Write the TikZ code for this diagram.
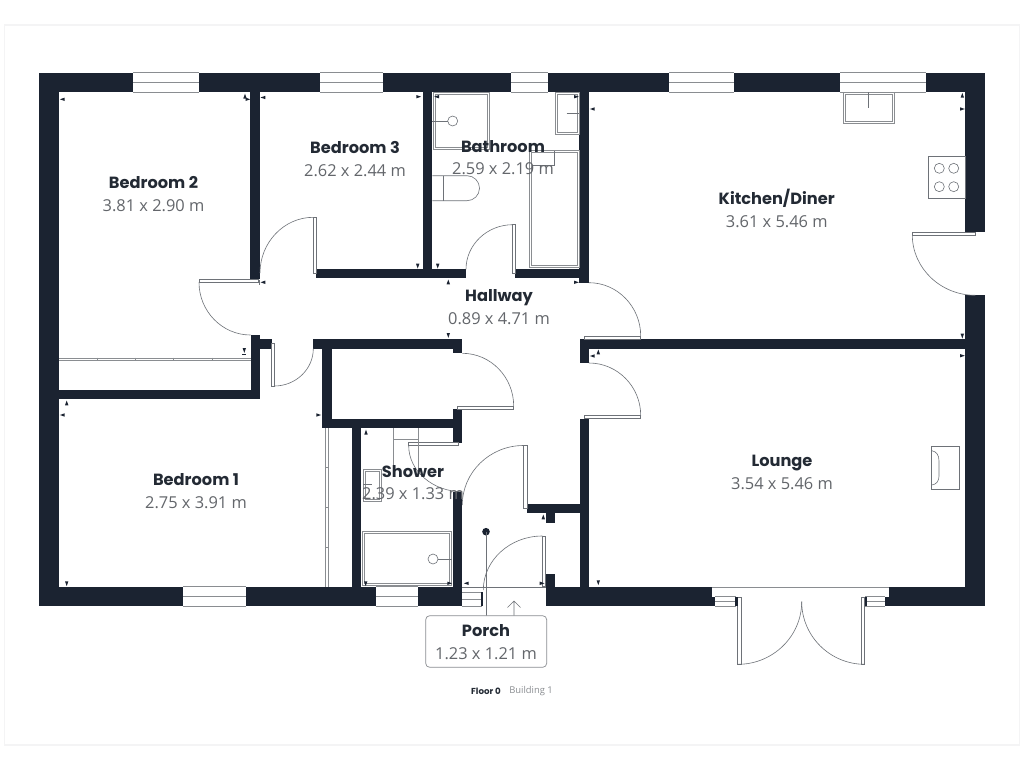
\documentclass[tikz,border=0pt]{standalone}
\usepackage{fontspec}
\setmainfont{Open Sans}
\newfontfamily\headfont{Poppins}
\usetikzlibrary{calc}
\definecolor{wallc}{HTML}{1B2331}
\definecolor{linec}{HTML}{6E7278}
\definecolor{fixc}{HTML}{8A8D91}
\definecolor{namec}{HTML}{232A34}
\definecolor{dimc}{HTML}{63666B}
\definecolor{pagec}{HTML}{F4F4F5}
\tikzset{
  wall/.style={fill=wallc,draw=none},
  thinl/.style={draw=linec,line width=0.6pt},
  fix/.style={draw=fixc,line width=0.8pt,fill=none},
  swing/.style={draw=linec,line width=0.6pt},
  leaf/.style={draw=linec,line width=0.6pt,fill=white},
  win/.style={draw=fixc,line width=0.6pt},
  roomname/.style={font=\headfont\fontsize{16.2}{18}\selectfont\bfseries,text=namec,inner sep=0pt,anchor=center,text height=11.4pt,text depth=0pt},
  roomdim/.style={font=\fontsize{16.4}{18}\selectfont,text=dimc,inner sep=0pt,anchor=center,text height=11.7pt,text depth=0pt}
}
\newcommand\wl[4]{\fill[wall] (#1,#2) rectangle (#3,#4);}
\newcommand\wn[3]{\fill[white] (#1,#2) rectangle (#3,#2+19.6); \draw[win] (#1,#2) -- (#3,#2) (#1,#2+9.8) -- (#3,#2+9.8) (#1,#2+19.6) -- (#3,#2+19.6);}
\newcommand\lf[4]{\draw[leaf] (#1,#2) rectangle (#3,#4);}
\newcommand\dbl[4]{\draw[fix] (#1,#2) rectangle (#3,#4); \draw[fix] (#1+1.9,#2+1.9) rectangle (#3-1.9,#4-1.9);}
% quarter swing: start, corner, end
\newcommand\qa[6]{\draw[swing] (#1,#2) .. controls ($(#1,#2)!0.55!(#3,#4)$) and ($(#5,#6)!0.55!(#3,#4)$) .. (#5,#6);}
\newcommand\tkl[2]{\fill[wallc] (#1-2.8,#2) -- (#1+2,#2-1.7) -- (#1+2,#2+1.7) -- cycle;}
\newcommand\tkr[2]{\fill[wallc] (#1+2.8,#2) -- (#1-2,#2-1.7) -- (#1-2,#2+1.7) -- cycle;}
\newcommand\tku[2]{\fill[wallc] (#1,#2-2.8) -- (#1-1.7,#2+2) -- (#1+1.7,#2+2) -- cycle;}
\newcommand\tkd[2]{\fill[wallc] (#1,#2+2.8) -- (#1-1.7,#2-2) -- (#1+1.7,#2-2) -- cycle;}
\begin{document}
\begin{tikzpicture}[x=1pt,y=-1pt]
\useasboundingbox (0,0) rectangle (1024,768);
\fill[white] (0,0) rectangle (1024,768);
\draw[pagec,line width=1.4pt] (4.5,25) rectangle (1019.5,745);

% sliding wardrobes
\draw[fix] (59,358) -- (250.5,358) (59,360.2) -- (250.5,360.2);
\foreach \x in {97,135.3,173.7,212} {\draw[fix] (\x,357.5) -- (\x,360.7);}
\draw[fix] (325.7,428) -- (325.7,587) (327.9,428) -- (327.9,587);
\foreach \y in {467,507.7,547} {\draw[fix] (325.2,\y) -- (328.4,\y);}

% outer walls
\wl{39}{72.7}{133}{92.3}
\wl{199}{72.7}{320}{92.3}
\wl{383}{72.7}{511}{92.3}
\wl{548}{72.7}{669}{92.3}
\wl{734.3}{72.7}{840.3}{92.3}
\wl{925.7}{72.7}{985.3}{92.3}
\wl{39}{72.7}{59}{606.3}
\wl{965}{72.7}{985.3}{232.3}
\wl{965}{295.3}{985.3}{606.3}
\wl{39}{586.7}{183}{606.3}
\wl{246}{586.7}{375.7}{606.3}
\wl{417.7}{586.7}{462.3}{606.3}
\wl{545.7}{586.7}{711.7}{606.3}
\wl{711.7}{596.7}{715}{606.3}
\wl{888.7}{586.7}{985.3}{606.3}
\wl{885.3}{596.7}{888.7}{606.3}

% windows
\wn{133}{72.7}{199}
\wn{320}{72.7}{383}
\wn{511}{72.7}{548}
\wn{669}{72.7}{734.3}
\wn{840.3}{72.7}{925.7}
\wn{183}{586.7}{246}
\wn{375.7}{586.7}{417.7}

% interior walls
\wl{250.3}{92}{260}{279.3}
\wl{316}{269.3}{466}{278.3}
\wl{423}{92}{432.3}{269.3}
\wl{515.3}{269.3}{589}{278.3}
\wl{579.3}{92}{589}{282.7}
\wl{580}{339.3}{985}{348.7}
\wl{580}{339.3}{589}{363}
\wl{580}{419}{589}{606}
\wl{527.3}{504}{589}{513.3}
\wl{546}{513}{555}{522.7}
\wl{546}{574.3}{555}{606}
\wl{250.5}{335}{260}{399.3}
\wl{59}{390}{260}{399.3}
\wl{260}{339.3}{271.7}{348.7}
\wl{313.3}{339.3}{462.3}{348.7}
\wl{453}{339.3}{462.3}{353.3}
\wl{322.3}{348.7}{331.7}{428.3}
\wl{322.3}{419}{453}{428.3}
\wl{453}{409.3}{462.3}{442.7}
\wl{351.7}{428}{361.3}{587}
\wl{452.7}{491.7}{462.3}{606}

% doors
\lf{313.3}{217.3}{316}{273.3}
\qa{260}{273}{260}{217.3}{313.3}{217.3}
\lf{512.7}{224.7}{515.3}{273}
\qa{466}{269.3}{466}{224.7}{512.7}{224.7}
\lf{199}{279.3}{258}{282.3}
\qa{199}{282.3}{199}{335}{250.5}{335}
\lf{271.7}{343}{274.3}{386}
\qa{274.3}{386}{313.3}{386}{313.3}{348.7}
\lf{584.3}{336}{640.7}{339.3}
\qa{589}{282.7}{640.7}{282.7}{640.7}{336}
\lf{584.3}{415.3}{640.7}{418.3}
\qa{589}{363}{640.7}{363}{640.7}{415.3}
\lf{457.3}{406}{513.7}{409}
\qa{462.3}{353.3}{513.7}{353.3}{513.7}{406}
\lf{408.7}{442.7}{458}{445.7}
\qa{408.7}{445.7}{408.7}{491.7}{462.3}{491.7}
\lf{912.3}{232.3}{975.3}{235}
\qa{912.3}{235}{912.3}{295.3}{975.3}{295.3}
% entrance door and swing
\lf{523.5}{445.5}{527.3}{508}
\qa{462.3}{505}{462.3}{445.5}{523.5}{445.5}
\lf{542.3}{536}{545}{586.7}
\qa{483.3}{590}{483.3}{536}{542.3}{536}
% french doors
\lf{737.7}{597}{741}{664.3}
\qa{738}{664.3}{801.7}{664.3}{801.7}{601.7}
\lf{861.7}{597}{864.7}{664.3}
\qa{864.7}{664.3}{801.7}{664.3}{801.7}{601.7}

% french door side windows and lounge threshold
\draw[win] (715,596.7) -- (736,596.7) (715,601.5) -- (736,601.5) (715,606.3) -- (736,606.3);
\wl{735.3}{597}{737.7}{606.3}
\draw[win] (865,596.7) -- (885.3,596.7) (865,601.5) -- (885.3,601.5) (865,606.3) -- (885.3,606.3);
\wl{865}{597}{867}{606.3}
\draw[fix] (711.7,587) -- (888.7,587);

% porch threshold and side light
\draw[thinl] (462.3,586.9) -- (545.7,586.9);
\draw[win] (462.3,592) -- (481.7,592) (462.3,599) -- (481.7,599) (462.3,606.3) -- (481.7,606.3);
\wl{481.2}{592}{483.2}{606.3}
\fill[wallc] (486,531.7) circle (3.8);
\draw[thinl] (486,531.7) -- (486,615.7);
\draw[thinl] (514,616) -- (514,601) (507.5,607.5) -- (514,601) -- (520.5,607.5);

% shower room fixtures
\draw[fix] (393.3,428) -- (393.3,473) (418.7,428) -- (418.7,470) (393.3,439.3) -- (418.7,439.3);
\dbl{363.3}{469.3}{381.7}{501}
\draw[thinl] (363.3,484.3) -- (372,484.3);
\dbl{362.3}{531.7}{451.7}{585.7}
\draw[thinl] (433,559) circle (5);
\draw[thinl] (438,559) -- (452,559);

% bathroom fixtures
\dbl{433.3}{92.3}{489.3}{149}
\draw[thinl] (452.7,121) circle (5);
\draw[thinl] (432.3,121) -- (447.7,121);
\draw[thinl] (432.3,175.7) -- (467,175.7) .. controls (473.9,175.7) and (479.5,181.3) .. (479.5,188.2) .. controls (479.5,195.1) and (473.9,200.7) .. (467,200.7) -- (432.3,200.7);
\draw[thinl] (443.3,175.7) -- (443.3,200.7);
\dbl{555}{92.3}{579.3}{134}
\draw[thinl] (566.7,113.3) -- (579,113.3);
\dbl{529}{150.7}{579.3}{267.7}
\draw[thinl] (554.3,151) -- (554.3,165) -- (532,165);

% kitchen fixtures
\dbl{843.3}{92.3}{894.3}{123}
\draw[thinl] (868.3,92.3) -- (868.3,108);
\draw[thinl] (928.3,156) rectangle (965,198.3);
\foreach \c in {(939.3,168.3),(953.7,168.3),(939.3,186.7),(953.7,186.7)} {\draw[thinl] \c circle (5);}

% fireplace
\draw[thinl] (931.7,446.7) rectangle (959.3,489.3);
\draw[thinl] (931.7,450.7) .. controls (936.5,451.5) and (939,455) .. (939,461) -- (939,476) .. controls (939,481) and (936.5,484.5) .. (931.7,485);

% dimension ticks
\tkl{62.7}{99.3} \tku{245}{96.5} \tkr{247.5}{99.3} \tkd{244.3}{350}
\draw[wallc,line width=0.6pt] (242.3,354.3) -- (246.3,354.3);
\tkl{263.3}{97.5} \tkl{263.3}{282.3}
\draw[thinl] (259,279.5) -- (259,285);
\tkr{418.3}{96.7} \tkd{417.7}{265.7}
\tkl{437}{96.7} \tkd{437.7}{265.7} \tkr{576}{96.7}
\tku{448.3}{282.3} \tkd{448.3}{335} \tkr{576}{282.3}
\tkl{592.7}{109} \tku{962.3}{95.7} \tkr{962}{109} \tkd{962.3}{335.7}
\tkr{962}{355.7} \tkl{592.7}{356} \tku{598.3}{352.3}
\tkd{598.3}{582.3}
\tku{66.7}{403.3} \tkl{62.7}{415} \tkr{318.3}{415} \tkd{66.7}{583.3}
\tku{366}{432.5} \tkd{365.7}{583.3} \tkr{449.3}{583.3}
\tkl{466.7}{583.3} \tkr{541.7}{583.3} \tku{543.3}{517.3}

% room labels
\node[roomname] (n2) at (153.5,182.3) {Bedroom 2};
\node[roomdim] (d2) at (153.5,206) {3.81 x 2.90 m};
\node[roomname] (n3) at (355,147.5) {Bedroom 3};
\node[roomdim] (d3) at (355,170.5) {2.62 x 2.44 m};
\node[roomname] (nb) at (503,146.5) {Bathroom};
\node[roomdim] (db) at (503,168.5) {2.59 x 2.19 m};
\node[roomname] (nk) at (776.7,198.5) {Kitchen/Diner};
\node[roomdim] (dk) at (776.7,221.5) {3.61 x 5.46 m};
\node[roomname] (nh) at (499,295.5) {Hallway};
\node[roomdim] (dh) at (499,318.5) {0.89 x 4.71 m};
\node[roomname] (nl) at (782,461) {Lounge};
\node[roomdim] (dl) at (782,484) {3.54 x 5.46 m};
\node[roomname] (n1) at (196,480) {Bedroom 1};
\node[roomdim] (d1) at (196,503) {2.75 x 3.91 m};
\node[roomname] (ns) at (413,471.5) {Shower};
\node[roomdim] (ds) at (413,493.5) {2.39 x 1.33 m};
\draw[draw=fixc,fill=white,line width=0.7pt,rounded corners=4pt] (425.7,615.7) rectangle (546.7,667.3);
\node[roomname] (np) at (486,630.5) {Porch};
\node[roomdim] (dp) at (486,653.5) {1.23 x 1.21 m};
\node[font=\headfont\fontsize{8.7}{9}\selectfont\bfseries,text=namec,inner sep=0pt] (fl) at (486,691) {Floor 0};
\node[font=\fontsize{9.4}{9}\selectfont,text=fixc,inner sep=0pt] (bl) at (531,691.5) {Building 1};
\end{tikzpicture}
\end{document}
